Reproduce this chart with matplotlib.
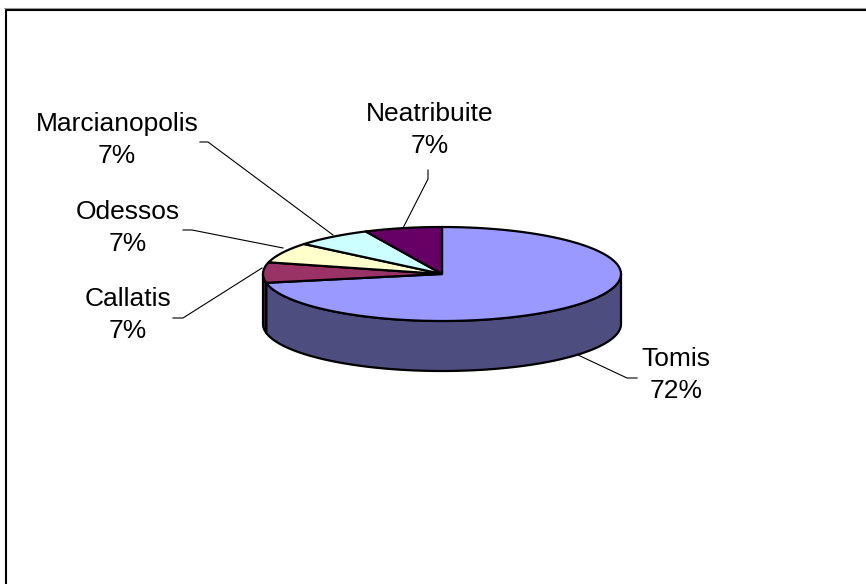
import numpy as np
import matplotlib
matplotlib.use("Agg")
import matplotlib.pyplot as plt
from matplotlib.patches import Polygon

# Data
labels = ["Tomis", "Callatis", "Odessos", "Marcianopolis", "Neatribuite"]
values = [72, 7, 7, 7, 7]
top_colors = ["#9999ff", "#993366", "#ffffcc", "#ccffff", "#660066"]
side_colors = ["#4d4d80", "#4d1a33", "#808066", "#668080", "#330033"]

# label block centres and leader lines (pixel coords)
label_pos = [(676, 375), (128, 315), (128, 228), (117, 140), (430, 130)]
leaders = [
    [(637, 378), (627, 378), (578, 355)],
    [(173, 318), (183, 318), (262, 268)],
    [(183, 230), (192, 230), (283, 248)],
    [(200, 142), (208, 142), (333, 235)],
    [(428, 170), (428, 179), (403, 228)],
]

# pie geometry
cx, cy = 442, 274
rx, ry = 179, 47
depth = 50


def pt(t, dy=0):
    r = np.radians(t)
    return cx + rx * np.cos(r), cy - ry * np.sin(r) + dy


def arc(a0, a1, dy=0, n=120):
    ts = np.linspace(a0, a1, n)
    return [pt(t, dy) for t in ts]


fig = plt.figure(figsize=(8.66, 5.84), dpi=100)
ax = fig.add_axes([0, 0, 1, 1])
ax.set_xlim(0, 866)
ax.set_ylim(584, 0)
ax.axis("off")

# chart frame (only top and left edges visible)
ax.plot([5.5, 5.5, 866], [584, 9.5, 9.5], color="black", lw=1.5, solid_capstyle="butt")
ax.plot([4, 866], [7.8, 7.8], color="#999999", lw=0.8)

total = sum(values)
spans = [v / total * 360 for v in values]
starts = 90 - np.concatenate([[0], np.cumsum(spans)[:-1]])
ends = starts - np.array(spans)

# sides of the visible front half
for a_end, a_start, col in zip(ends, starts, side_colors):
    lo = a_end % 360
    hi = lo + (a_start - a_end)
    for f0, f1 in [(180, 360), (540, 720)]:
        s0, s1 = max(lo, f0), min(hi, f1)
        if s1 > s0:
            poly = arc(s0, s1) + arc(s1, s0, depth)
            ax.add_patch(Polygon(poly, closed=True, facecolor=col,
                                 edgecolor="black", lw=1.6, joinstyle="round"))

# tops
for a_end, a_start, col in zip(ends, starts, top_colors):
    poly = [(cx, cy)] + arc(a_start, a_end)
    ax.add_patch(Polygon(poly, closed=True, facecolor=col,
                         edgecolor="black", lw=1.6, joinstyle="round"))

# labels
for lab, v, (x, y), line in zip(labels, values, label_pos, leaders):
    ax.text(x, y, f"{lab}\n{v}%", ha="center", va="center", fontsize=19,
            family="Liberation Sans", linespacing=1.45)
    xs, ys = zip(*line)
    ax.plot(xs, ys, color="black", lw=0.8)

fig.savefig("out.png", dpi=100)
